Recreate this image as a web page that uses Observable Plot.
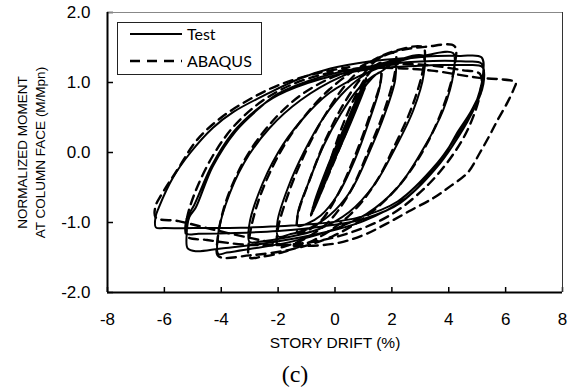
<!DOCTYPE html>
<html><head><meta charset="utf-8">
<script src="https://cdn.jsdelivr.net/npm/d3@7"></script>
<script src="https://cdn.jsdelivr.net/npm/@observablehq/plot@0.6"></script>
<style>
body{margin:0;background:#fff;}
#wrap{position:relative;width:568px;height:392px;overflow:hidden;background:#fff;}
#legend{position:absolute;left:0;top:0;}
#cap{position:absolute;left:0;width:590px;top:359px;text-align:center;font-family:'Liberation Serif','Times New Roman',serif;font-size:24px;line-height:30px;color:#000;}
</style></head><body><div id="wrap"></div>
<script>
const xTicks = [-8,-6,-4,-2,0,2,4,6,8];
const yTicks = [-2,-1,0,1,2];
const xLabel = "STORY DRIFT (%)";
const yLabel = "NORMALIZED MOMENT\nAT COLUMN FACE (M/Mpn)";
const seriesNames = ["Test","ABAQUS"];
const caption = "(c)";

// Test (solid) hysteresis path [drift %, M/Mpn]
const testPath = [
[0,0],
[0.45,0.42],[0.2,0.15],[-0.3,-0.32],[-0.05,-0.05],
[0.45,0.43],[0.2,0.16],[-0.3,-0.33],[-0.05,-0.06],
[0.62,0.58],[0.3,0.25],[-0.45,-0.48],[-0.1,-0.1],
[0.62,0.59],[0.3,0.24],[-0.45,-0.49],[-0.1,-0.12],
[0.85,0.78],[0.45,0.36],[-0.62,-0.62],[-0.2,-0.18],
[0.86,0.79],[0.42,0.34],[-0.63,-0.64],[-0.2,-0.2],
[1.07,0.95],[0.55,0.42],[-0.8,-0.8],[-0.25,-0.25],
[1.07,0.93],[0.52,0.4],[-0.8,-0.8],[-0.28,-0.27],
[1.05,0.97],[0.6,0.5],[-0.78,-0.78],[-0.3,-0.24],
[0.3,0.33],[0.9,0.85],[1.3,1.06],[1.6,1.15],
[1.58,0.95],[1.2,0.45],[0.7,-0.1],[0.1,-0.6],[-0.5,-0.9],[-1.0,-1.02],[-1.3,-1.05],
[-1.3,-0.85],[-0.9,-0.4],[-0.4,0.1],[0.2,0.55],[0.8,0.9],[1.3,1.08],[1.6,1.15],[2.1,1.28],
[2.12,1.05],[1.75,0.55],[1.2,0.0],[0.55,-0.55],[-0.2,-0.9],[-1.0,-1.1],[-1.6,-1.17],[-2.0,-1.2],
[-2.02,-0.98],[-1.65,-0.5],[-1.1,0.0],[-0.4,0.5],[0.4,0.9],[1.2,1.15],[2.0,1.29],[3.1,1.38],
[3.12,1.12],[2.75,0.6],[2.1,0.05],[1.4,-0.45],[0.5,-0.85],[-0.6,-1.1],[-1.8,-1.22],[-2.6,-1.27],[-3.0,-1.28],
[-3.02,-1.05],[-2.7,-0.6],[-2.0,0.0],[-1.2,0.45],[-0.2,0.85],[1.0,1.12],[2.2,1.3],[3.2,1.39],[4.15,1.42],
[4.17,1.15],[3.8,0.6],[3.1,0.05],[2.2,-0.5],[1.1,-0.88],[-0.2,-1.12],[-1.6,-1.28],[-3.0,-1.38],[-3.8,-1.43],[-4.1,-1.45],
[-4.12,-1.2],[-3.85,-0.75],[-3.2,-0.15],[-2.3,0.35],[-1.2,0.75],[0.2,1.08],[1.7,1.28],[3.2,1.37],[4.4,1.38],[5.15,1.36],
[5.2,1.1],[4.85,0.6],[4.3,0.2],[3.7,-0.15],[2.5,-0.65],[1.0,-0.98],[-0.8,-1.18],[-2.5,-1.3],[-4.0,-1.37],[-4.9,-1.41],[-5.18,-1.37],[-5.22,-1.2],
[-5.12,-0.92],[-4.9,-0.79],[-4.3,-0.2],[-3.5,0.3],[-2.7,0.62],[-2.0,0.84],[-0.5,1.08],[1.2,1.23],[3.0,1.3],[4.6,1.3],[5.15,1.27],
[5.22,1.0],[4.8,0.6],[4.34,0.31],[3.7,-0.12],[2.3,-0.72],[1.0,-0.95],[-0.5,-1.06],[-2.0,-1.12],[-3.5,-1.15],[-4.8,-1.16],[-5.2,-1.16],
[-5.22,-0.95],[-4.95,-0.75],[-4.35,-0.2],[-3.6,0.28],[-2.8,0.6],[-2.0,0.82],[-0.5,1.05],[1.2,1.19],[3.0,1.24],[4.6,1.25],[5.18,1.22],
[5.22,0.98],[4.8,0.55],[4.3,0.25],[3.6,-0.15],[2.2,-0.7],[0.8,-0.93],[-1.0,-1.03],[-3.0,-1.07],[-5.0,-1.08],[-6.0,-1.08],[-6.3,-1.07],
[-6.31,-0.92],[-6.2,-0.79],[-5.7,-0.36],[-5.08,0.0],[-4.3,0.35],[-3.57,0.58],[-2.37,0.84],[-1.21,1.06],[-0.16,1.2],[1.2,1.3],[2.5,1.35]
];

// ABAQUS (dashed) hysteresis path [drift %, M/Mpn]
const abaqusPath = [
[0,0],
[0.45,0.45],[0.15,0.12],[-0.3,-0.36],[0,-0.02],
[0.47,0.46],[0.15,0.11],[-0.3,-0.37],[0,-0.03],
[0.6,0.6],[0.25,0.22],[-0.45,-0.5],[-0.1,-0.1],
[0.85,0.85],[0.4,0.36],[-0.65,-0.72],[-0.2,-0.2],
[0.87,0.86],[0.42,0.38],[-0.66,-0.73],[-0.2,-0.19],
[1.1,1.05],[0.55,0.45],[-0.85,-0.9],[-0.3,-0.28],
[1.1,1.06],[0.5,0.42],[-0.85,-0.9],[-0.32,-0.3],
[0.3,0.42],[0.9,0.95],[1.3,1.18],[1.6,1.28],
[1.62,1.05],[1.2,0.5],[0.7,-0.05],[0.1,-0.6],[-0.5,-0.98],[-1.0,-1.12],[-1.3,-1.15],
[-1.32,-0.92],[-0.9,-0.4],[-0.4,0.12],[0.2,0.62],[0.8,1.0],[1.4,1.3],[2.1,1.42],
[2.12,1.18],[1.75,0.62],[1.2,0.05],[0.55,-0.55],[-0.2,-0.98],[-1.0,-1.22],[-1.6,-1.32],[-2.0,-1.35],
[-2.02,-1.12],[-1.65,-0.6],[-1.1,-0.05],[-0.4,0.5],[0.4,0.98],[1.2,1.28],[2.1,1.45],[3.1,1.5],
[3.12,1.25],[2.75,0.7],[2.1,0.1],[1.4,-0.45],[0.5,-0.9],[-0.6,-1.22],[-1.8,-1.42],[-2.6,-1.49],[-3.0,-1.5],
[-3.02,-1.25],[-2.7,-0.7],[-2.0,-0.05],[-1.2,0.45],[-0.2,0.9],[1.0,1.25],[2.2,1.45],[3.2,1.51],[4.2,1.52],
[4.22,1.27],[3.85,0.7],[3.2,0.1],[2.3,-0.45],[1.2,-0.88],[-0.1,-1.2],[-1.5,-1.38],[-3.0,-1.47],[-4.1,-1.48],
[-4.12,-1.22],[-3.85,-0.72],[-3.2,-0.12],[-2.3,0.4],[-1.2,0.82],[0.2,1.12],[1.8,1.25],[3.2,1.25],[4.4,1.18],[5.1,1.12],
[5.12,0.88],[4.75,0.4],[4.2,0.0],[3.3,-0.45],[2.0,-0.88],[0.5,-1.15],[-1.2,-1.3],[-3.0,-1.32],[-4.5,-1.25],[-5.2,-1.2],
[-5.22,-0.98],[-4.95,-0.6],[-4.3,-0.05],[-3.5,0.4],[-2.4,0.78],[-1.0,1.05],[0.8,1.2],[2.4,1.2],[3.4,1.17],[5.0,1.07],[6.35,1.0],
[6.3,0.92],[6.07,0.72],[5.7,0.45],[5.47,0.27],[5.1,0.0],[4.66,-0.29],[4.06,-0.48],[3.46,-0.65],[2.6,-0.84],[1.8,-1.02],[1.0,-1.18],[0,-1.3],[-1.5,-1.33],[-3.0,-1.22],[-4.5,-1.08],[-5.5,-0.98],[-6.3,-0.93],
[-6.32,-0.78],[-6.13,-0.62],[-5.5,-0.22],[-4.85,0.18],[-4.0,0.5],[-3.0,0.76],[-2.0,0.96],[-0.76,1.12],[0.5,1.22]
];

const plot = Plot.plot({
  width: 568, height: 356,
  marginLeft: 107, marginRight: 6, marginTop: 12, marginBottom: 64,
  x: {domain: [-8, 8]},
  y: {domain: [-2, 2]},
  style: {fontFamily: "'Liberation Sans', Arial, sans-serif", fontSize: "16px", color: "#000", background: "#fff"},
  marks: [
    Plot.axisX({ticks: xTicks, tickSize: 0, tickPadding: 20, tickFormat: d => String(d), fontSize: 17, label: null}),
    Plot.axisY({ticks: yTicks, tickSize: 0, tickPadding: 17, tickFormat: d => d.toFixed(1), fontSize: 17, label: null}),
    Plot.line(testPath, {x: d => d[0], y: d => d[1], curve: "catmull-rom", stroke: "#000", strokeWidth: 2}),
    Plot.line(abaqusPath, {x: d => d[0], y: d => d[1], curve: "catmull-rom", stroke: "#000", strokeWidth: 2.4, strokeDasharray: "9,6"}),
    Plot.tickX(xTicks, {x: d => d, insetTop: 275, stroke: "#000", strokeWidth: 1.5}),
    Plot.tickY(yTicks, {y: d => d, insetRight: 449, stroke: "#000", strokeWidth: 1.5}),
    Plot.ruleY([2], {stroke: "#888", strokeWidth: 1}),
    Plot.ruleX([8], {stroke: "#333", strokeWidth: 1}),
    Plot.ruleX([-8], {stroke: "#000", strokeWidth: 2}),
    Plot.ruleY([-2], {stroke: "#000", strokeWidth: 2}),
    Plot.text([xLabel], {frameAnchor: "bottom", dy: 55, fontSize: 15.5, fill: "#000"}),
    Plot.text([yLabel], {frameAnchor: "left", textAnchor: "middle", dx: -77.5, rotate: -90, fontSize: 13.5, lineHeight: 1.33, fill: "#000"})
  ]
});
const wrap = document.getElementById("wrap");
wrap.appendChild(plot);

// legend box
const ns = "http://www.w3.org/2000/svg";
const lg = document.createElementNS(ns, "svg");
lg.setAttribute("id", "legend");
lg.setAttribute("width", 568); lg.setAttribute("height", 100);
lg.innerHTML = `
<rect x="117.5" y="22.5" width="144" height="52" fill="#fff" stroke="#222" stroke-width="1"/>
<line x1="130" x2="182" y1="34" y2="34" stroke="#000" stroke-width="2"/>
<line x1="130" x2="182" y1="61" y2="61" stroke="#000" stroke-width="2.4" stroke-dasharray="10,7"/>
<text x="187" y="34" dy="0.35em" font-family="Lato, 'Open Sans', sans-serif" font-size="16" fill="#000">${seriesNames[0]}</text>
<text x="187" y="61" dy="0.35em" font-family="Lato, 'Open Sans', sans-serif" font-size="16" fill="#000">${seriesNames[1]}</text>`;
wrap.appendChild(lg);

const cap = document.createElement("div");
cap.id = "cap";
cap.textContent = caption;
wrap.appendChild(cap);
</script>
</body></html>
